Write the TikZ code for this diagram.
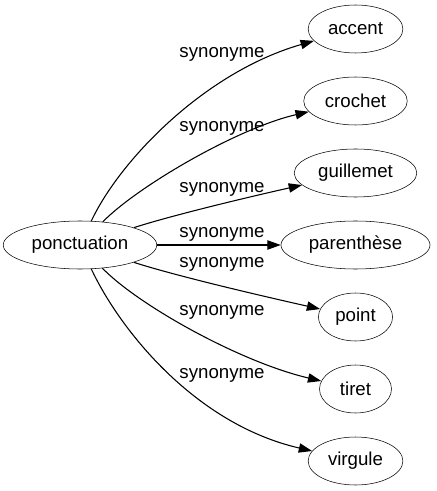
\documentclass[tikz,border=0pt]{standalone}
\usepackage{fontspec}
\setmainfont{Liberation Sans}
\usetikzlibrary{shapes.geometric}
\usetikzlibrary{arrows.meta}

\begin{document}
\begin{tikzpicture}[x=0.75pt, y=-0.75pt,
    word/.style={draw, ellipse, minimum width=54pt, minimum height=36pt, inner xsep=4.5pt, inner ysep=1pt, font=\fontsize{14}{17}\selectfont},
    rel/.style={anchor=base, inner sep=0pt, font=\fontsize{14}{17}\selectfont},
    syn/.style={-{Triangle[length=10pt, width=7pt]}, line width=0.8pt}]
    \useasboundingbox (0,0) rectangle (436,491);
    % the word and its synonyms
    \node[word] (ponctuation) at (80,245) {ponctuation};
    \node[word] (accent) at (355.5,29) {accent};
    \node[word] (crochet) at (355.5,101) {crochet};
    \node[word] (guillemet) at (355.5,173) {guillemet};
    \node[word] (parenthese) at (355.5,245) {parenthèse};
    \node[word] (point) at (355.5,317) {point};
    \node[word] (tiret) at (355.5,389) {tiret};
    \node[word] (virgule) at (355.5,461) {virgule};
    % edges
    \draw[syn] (ponctuation) .. controls (120,160) and (205,72) .. (accent);
    \draw[syn] (ponctuation) .. controls (138,186) and (238,128) .. (crochet);
    \draw[syn] (ponctuation) .. controls (170,216) and (240,199) .. (guillemet);
    \draw[syn] (ponctuation) -- (parenthese);
    \draw[syn] (ponctuation) .. controls (170,274) and (240,291) .. (point);
    \draw[syn] (ponctuation) .. controls (138,305) and (240,362) .. (tiret);
    \draw[syn] (ponctuation) .. controls (120,330) and (195,424) .. (virgule);
    % edge labels
    \node[rel] (l-accent) at (222,58) {synonyme};
    \node[rel] (l-crochet) at (222,132) {synonyme};
    \node[rel] (l-guillemet) at (222,193) {synonyme};
    \node[rel] (l-parenthese) at (222,238) {synonyme};
    \node[rel] (l-point) at (222,267) {synonyme};
    \node[rel] (l-tiret) at (222,315) {synonyme};
    \node[rel] (l-virgule) at (222,378) {synonyme};
\end{tikzpicture}
\end{document}
